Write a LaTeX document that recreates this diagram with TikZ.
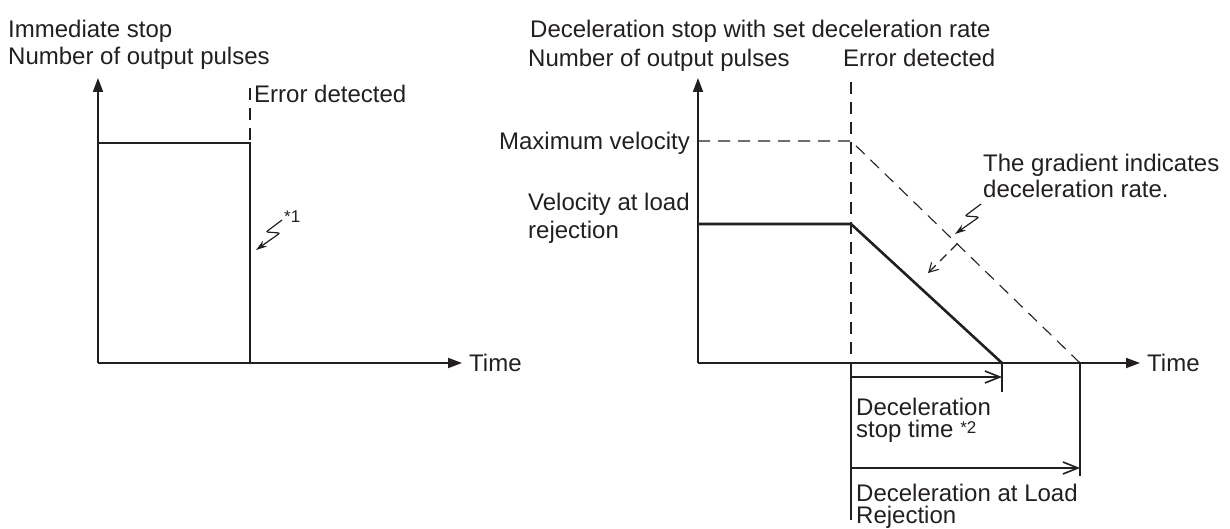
\documentclass[tikz,border=0pt]{standalone}
\usepackage{fontspec}
\setmainfont{Liberation Sans}
\usetikzlibrary{arrows.meta}
\definecolor{ink}{RGB}{35,31,32}
\begin{document}
\begin{tikzpicture}[x=1pt,y=-1pt,
  txt/.style={anchor=base west, inner sep=0pt, text=ink, font=\fontsize{24}{23}\selectfont},
  sup/.style={anchor=base west, inner sep=0pt, text=ink, font=\fontsize{17}{17}\selectfont},
  axisline/.style={draw=ink, line width=1.9pt, -{Triangle[length=14pt,width=10pt]}},
  curve/.style={draw=ink, line width=2.6pt},
  dashline/.style={draw=ink, line width=1.1pt, dash pattern=on 12pt off 8pt},
  thin/.style={draw=ink, line width=1.3pt},
  dimarrow/.style={draw=ink, line width=1.6pt, -{Straight Barb[length=15pt,width=12pt,line width=1.6pt]}},
  squig/.style={draw=ink, line width=1.2pt, rounded corners=2pt, -{Stealth[length=11pt,width=7pt]}},
  dasharrow/.style={draw=ink, line width=1.1pt, dash pattern=on 9pt off 6pt, -{Straight Barb[length=9pt,width=10pt,line width=1.1pt,sep=0pt]}}
]
\useasboundingbox (0,0) rectangle (1230,529);

% ---------- left diagram ----------
\node[txt] (ltitle) at (8,38) {Immediate stop};
\node[txt] (lylabel) at (8,65) {Number of output pulses};
\node[txt] (lerr) at (254,103) {Error detected};
\node[txt] (ltime) at (469,371) {Time};
\node[sup] (lnote) at (284,223) {*1};

\coordinate (LO) at (98,363);
\coordinate (LY) at (98,78);
\coordinate (LX) at (462,363);
\coordinate (LT) at (98,143);
\coordinate (LE) at (250,143);
\coordinate (LB) at (250,363);
\coordinate (LD) at (250,88);
\coordinate (LS1) at (282,220);
\coordinate (LS2) at (266,232);
\coordinate (LS3) at (280,233);
\coordinate (LS4) at (256,250);

\draw[axisline] (LO) -- (LY);
\draw[axisline] (LO) -- (LX);
\draw[curve] (LT) -- (LE) -- (LB);
\draw[dashline] (LD) -- (LE);
\draw[squig] (LS1) -- (LS2) -- (LS3) -- (LS4);

% ---------- right diagram ----------
\node[txt] (rtitle) at (530,38) {Deceleration stop with set deceleration rate};
\node[txt] (rylabel) at (528,67) {Number of output pulses};
\node[txt] (rerr) at (843,67) {Error detected};
\node[txt, anchor=base east] (rmax) at (690,150) {Maximum velocity};
\node[txt] (rvel1) at (528,211) {Velocity at load};
\node[txt] (rvel2) at (528,239) {rejection};
\node[txt] (rgrad1) at (983,172) {The gradient indicates};
\node[txt] (rgrad2) at (983,198) {deceleration rate.};
\node[txt] (rtime) at (1147,371) {Time};
\node[txt] (rdst1) at (856,415) {Deceleration};
\node[txt] (rdst2) at (856,437) {stop time {\fontsize{17}{17}\selectfont\raisebox{4pt}{*2}}};
\node[txt] (rdal1) at (856,501) {Deceleration at Load};
\node[txt] (rdal2) at (856,523) {Rejection};

\coordinate (RO) at (698,363);
\coordinate (RY) at (698,78);
\coordinate (RX) at (1140,363);
\coordinate (RE1) at (851,82);
\coordinate (RE0) at (851,363);
\coordinate (RE2) at (851,520);
\coordinate (RM0) at (698,141);
\coordinate (RM) at (851,141);
\coordinate (RD) at (1080,363);
\coordinate (RV0) at (698,224);
\coordinate (RV) at (851,224);
\coordinate (RS) at (1002,363);
\coordinate (RS2) at (1002,392);
\coordinate (RD2) at (1080,476);
\coordinate (A1s) at (851,377);
\coordinate (A1e) at (1002,377);
\coordinate (A2s) at (851,468);
\coordinate (A2e) at (1080,468);
\coordinate (RS1) at (981,204);
\coordinate (RSq2) at (965,216);
\coordinate (RSq3) at (979,217);
\coordinate (RSq4) at (955,234);
\coordinate (RG1) at (957,244);
\coordinate (RG2) at (928,273);

\draw[axisline] (RO) -- (RY);
\draw[axisline] (RO) -- (RX);
\draw[dashline] (RE1) -- (RE0);
\draw[thin] (RE0) -- (RE2);
\draw[dashline] (RM0) -- (RM) -- (RD);
\draw[curve] (RV0) -- (RV) -- (RS);
\draw[thin] (RS) -- (RS2);
\draw[thin] (RD) -- (RD2);
\draw[dimarrow] (A1s) -- (A1e);
\draw[dimarrow] (A2s) -- (A2e);
\draw[squig] (RS1) -- (RSq2) -- (RSq3) -- (RSq4);
\draw[dasharrow] (RG1) -- (RG2);
\end{tikzpicture}
\end{document}
